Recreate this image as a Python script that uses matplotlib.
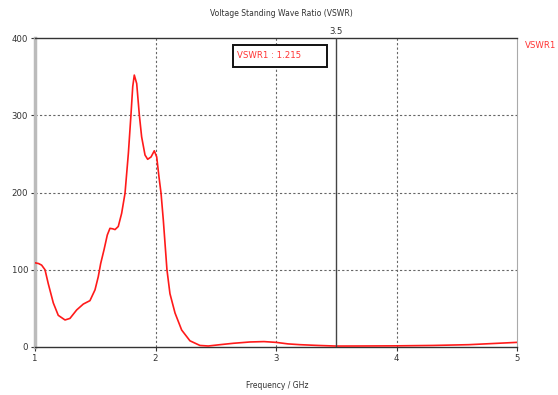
import matplotlib
matplotlib.use("Agg")
import matplotlib.pyplot as plt
from matplotlib.patches import Rectangle

# VSWR sweep, frequency in GHz
freq = [1.00, 1.03, 1.055, 1.083, 1.11, 1.152, 1.193, 1.249, 1.29, 1.346,
        1.401, 1.456, 1.498, 1.525, 1.545, 1.573, 1.60, 1.622, 1.645, 1.664,
        1.691, 1.719, 1.747, 1.775, 1.797, 1.811, 1.824, 1.844, 1.866, 1.885,
        1.913, 1.935, 1.963, 1.99, 2.01, 2.029, 2.046, 2.065, 2.08, 2.095,
        2.12, 2.162, 2.217, 2.286, 2.369, 2.438, 2.535, 2.646, 2.784, 2.90,
        3.00, 3.10, 3.20, 3.35, 3.50, 3.70, 4.00, 4.30, 4.60, 4.80,
        5.00]
vswr = [109, 108, 106, 100, 82, 57, 41, 35, 37, 48,
        55.6, 60, 74, 91, 108, 126, 145, 153.6, 153, 152,
        156, 173, 199, 251, 302, 337, 352, 341, 300, 272,
        248.5, 243, 246, 254, 246, 220, 199, 164, 132, 100,
        69, 44, 22, 8, 2, 1.3, 3, 4.8, 6.5, 7,
        6, 4, 3, 2, 1.215, 1.3, 1.5, 2, 3, 4.5,
        6]

marker_freq = 3.5
marker_val = 1.215
x_ticks = [1, 2, 3, 4, 5]
y_ticks = [0, 100, 200, 300, 400]

plt.rcParams["font.family"] = ["DejaVu Sans"]
plt.rcParams["font.stretch"] = "condensed"
txt = "#333333"
fs = 6.8

fig = plt.figure(figsize=(5.58, 3.95), dpi=100)
ax = fig.add_axes([35 / 558, 1 - 347 / 395, 482 / 558, 309 / 395])

ax.plot(freq, vswr, color="#ff1a1a", lw=1.2, zorder=3,
        solid_joinstyle="round", solid_capstyle="round")
ax.axvline(marker_freq, color="#444444", lw=1.0, zorder=4)

ax.set_xlim(1, 5)
ax.set_ylim(0, 400)
ax.set_xticks(x_ticks)
ax.set_yticks(y_ticks)
ax.tick_params(labelsize=fs, colors=txt, length=3, width=0.8, pad=2)

for v in x_ticks[1:-1]:
    ax.axvline(v, color="#666666", lw=0.8, ls=(0, (2, 2)), zorder=1)
for v in y_ticks[1:-1]:
    ax.axhline(v, color="#666666", lw=0.8, ls=(0, (2, 2)), zorder=1)

ax.spines["left"].set_color("#bbbbbb")
ax.spines["left"].set_linewidth(2.5)
ax.spines["right"].set_color("#aaaaaa")
ax.spines["right"].set_linewidth(0.8)
ax.spines["top"].set_color("#333333")
ax.spines["top"].set_linewidth(1.0)
ax.spines["bottom"].set_color("#333333")
ax.spines["bottom"].set_linewidth(1.0)

fig.text(281 / 558, 1 - 14 / 395, "Voltage Standing Wave Ratio (VSWR)",
         ha="center", va="center", fontsize=6.1, color=txt)
fig.text(277 / 558, 1 - 386 / 395, "Frequency / GHz",
         ha="center", va="center", fontsize=6.1, color=txt)
ax.text(marker_freq, 1.005, f"{marker_freq}", transform=ax.get_xaxis_transform(),
        ha="center", va="bottom", fontsize=fs, color=txt)
ax.text(1.017, 0.977, "VSWR1", transform=ax.transAxes, ha="left", va="center",
        fontsize=fs, color="#ff3333", clip_on=False)

# marker readout box
ax.add_patch(Rectangle((0.411, 0.906), 0.195, 0.071, transform=ax.transAxes,
                       fill=True, facecolor="white", edgecolor="#111111",
                       lw=1.4, zorder=5))
ax.text(0.419, 0.942, f"VSWR1 : {marker_val}", transform=ax.transAxes,
        ha="left", va="center", fontsize=fs, color="#ff3333", zorder=6)

fig.savefig("out.png", dpi=100)
